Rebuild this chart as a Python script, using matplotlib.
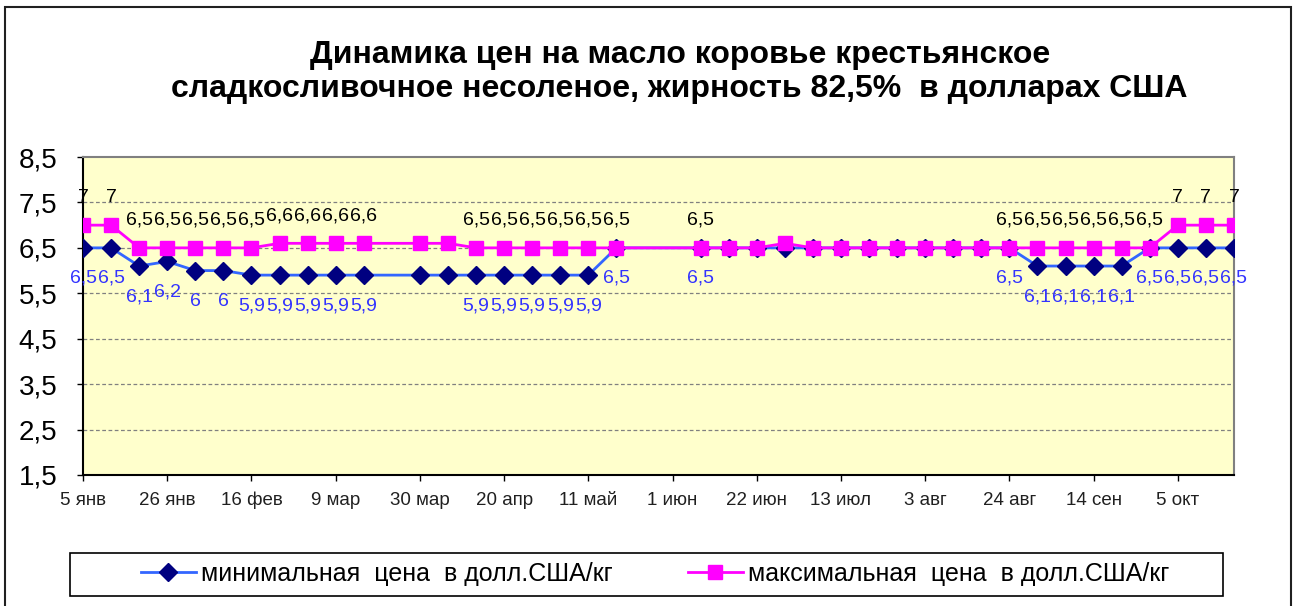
import numpy as np
import matplotlib
matplotlib.use('Agg')
import matplotlib.pyplot as plt
import pandas as pd
from matplotlib.patches import Rectangle

plt.rcParams['font.family'] = ['Liberation Sans', 'DejaVu Sans']

# weekly observations (some weeks missing)
dates = ['2009-01-05', '2009-01-12', '2009-01-19', '2009-01-26', '2009-02-02', '2009-02-09',
         '2009-02-16', '2009-02-23', '2009-03-02', '2009-03-09', '2009-03-16',
         '2009-03-30', '2009-04-06', '2009-04-13', '2009-04-20', '2009-04-27', '2009-05-04',
         '2009-05-11', '2009-05-18',
         '2009-06-08', '2009-06-15', '2009-06-22', '2009-06-29', '2009-07-06', '2009-07-13',
         '2009-07-20', '2009-07-27', '2009-08-03', '2009-08-10', '2009-08-17', '2009-08-24',
         '2009-08-31', '2009-09-07', '2009-09-14', '2009-09-21', '2009-09-28', '2009-10-05',
         '2009-10-12', '2009-10-19']
min_price = [6.5, 6.5, 6.1, 6.2, 6.0, 6.0, 5.9, 5.9, 5.9, 5.9, 5.9,
             5.9, 5.9, 5.9, 5.9, 5.9, 5.9, 5.9, 6.5,
             6.5, 6.5, 6.5, 6.5, 6.5, 6.5, 6.5, 6.5, 6.5, 6.5, 6.5, 6.5,
             6.1, 6.1, 6.1, 6.1, 6.5, 6.5, 6.5, 6.5]
max_price = [7.0, 7.0, 6.5, 6.5, 6.5, 6.5, 6.5, 6.6, 6.6, 6.6, 6.6,
             6.6, 6.6, 6.5, 6.5, 6.5, 6.5, 6.5, 6.5,
             6.5, 6.5, 6.5, 6.6, 6.5, 6.5, 6.5, 6.5, 6.5, 6.5, 6.5, 6.5,
             6.5, 6.5, 6.5, 6.5, 6.5, 7.0, 7.0, 7.0]
# points without data labels
no_label = ['2009-03-30', '2009-04-06', '2009-06-15', '2009-06-22', '2009-06-29', '2009-07-06',
            '2009-07-13', '2009-07-20', '2009-07-27', '2009-08-03', '2009-08-10', '2009-08-17']

tick_dates = ['2009-01-05', '2009-01-26', '2009-02-16', '2009-03-09', '2009-03-30', '2009-04-20',
              '2009-05-11', '2009-06-01', '2009-06-22', '2009-07-13', '2009-08-03', '2009-08-24',
              '2009-09-14', '2009-10-05']
tick_labels = ['5 янв', '26 янв', '16 фев', '9 мар', '30 мар', '20 апр', '11 май', '1 июн',
               '22 июн', '13 июл', '3 авг', '24 авг', '14 сен', '5 окт']

x = pd.to_datetime(dates)

fig = plt.figure(figsize=(12.97, 6.06), dpi=100)
ax = fig.add_axes([0.064, 0.2162, 0.8874, 0.5247])
ax.set_facecolor('#FFFFCC')

ax.plot(x, min_price, color='#3366FF', linewidth=2, marker='D', markersize=9,
        markerfacecolor='#000080', markeredgecolor='#000080',
        label='минимальная  цена  в долл.США/кг', zorder=3)
ax.plot(x, max_price, color='#FF00FF', linewidth=2, marker='s', markersize=10,
        markerfacecolor='#FF00FF', markeredgecolor='#FF00FF',
        label='максимальная  цена  в долл.США/кг', zorder=4)

for d, xi, lo, hi in zip(dates, x, min_price, max_price):
    if d in no_label:
        continue
    ax.annotate(f'{hi:g}'.replace('.', ','), (xi, hi), xytext=(0, 20), textcoords='offset points',
                ha='center', va='center', fontsize=14, color='black', zorder=5)
    ax.annotate(f'{lo:g}'.replace('.', ','), (xi, lo), xytext=(0, -22), textcoords='offset points',
                ha='center', va='center', fontsize=14, color='#3333FF', zorder=5)

ax.set_ylim(1.5, 8.5)
ax.set_yticks(np.arange(1.5, 8.6, 1.0))
ax.set_yticklabels([f'{v:.1f}'.replace('.', ',') for v in np.arange(1.5, 8.6, 1.0)], fontsize=20)
ax.set_xlim(x[0], x[-1])
ax.set_xticks(pd.to_datetime(tick_dates))
ax.set_xticklabels(tick_labels, fontsize=13.5, color='#202020')
for lbl in ax.get_xticklabels():
    lbl.set_va('baseline')
ax.tick_params(axis='both', direction='out', length=4.5, width=1, color='black')
ax.tick_params(axis='x', pad=17)
ax.tick_params(axis='y', pad=14)

for v in np.arange(2.5, 8.0, 1.0):
    ax.axhline(v, color='#808080', linestyle=(0, (3, 2)), linewidth=0.9, zorder=1)

ax.spines['left'].set_color('black')
ax.spines['bottom'].set_color('black')
ax.spines['top'].set_color('#808080')
ax.spines['right'].set_color('#808080')
for s in ax.spines.values():
    s.set_linewidth(1.5)

fig.text(0.524, 0.881,
         'Динамика цен на масло коровье крестьянское\n'
         'сладкосливочное несоленое, жирность 82,5%  в долларах США',
         ha='center', va='center', fontsize=23, fontweight='bold', linespacing=1.15)

# legend box
fig.patches.append(Rectangle((70 / 1297, 1 - 596 / 606), 1153 / 1297, 43 / 606,
                             transform=fig.transFigure, fill=False, edgecolor='black',
                             linewidth=1.2))
fig.legend(loc='center', bbox_to_anchor=(655 / 1297, 1 - 574 / 606), ncol=2, frameon=False,
           fontsize=18, handlelength=2.2, handletextpad=0.2, columnspacing=3.0)

# chart border
fig.patches.append(Rectangle((5 / 1297, -0.02), 1286 / 1297, 1.02 - 7 / 606,
                             transform=fig.transFigure, fill=False, edgecolor='#202020',
                             linewidth=1.5))

fig.savefig('out.png', dpi=100)
